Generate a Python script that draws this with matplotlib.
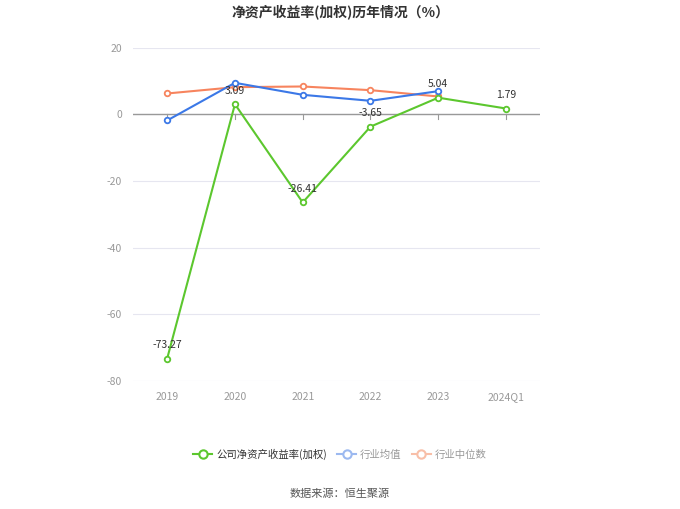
import matplotlib
matplotlib.use('Agg')
import matplotlib.pyplot as plt
from matplotlib.lines import Line2D

plt.rcParams['font.family'] = ['Noto Sans CJK SC', 'DejaVu Sans']
plt.rcParams['axes.unicode_minus'] = False

# 数据
years = ['2019', '2020', '2021', '2022', '2023', '2024Q1']
roe_company = [-73.27, 3.09, -26.41, -3.65, 5.04, 1.79]
roe_ind_mean = [-1.8, 9.5, 5.9, 4.1, 7.0]
roe_ind_median = [6.3, 8.2, 8.4, 7.3, 5.4]

C_GREEN = '#5cc72e'
C_BLUE = '#3b78e7'
C_ORANGE = '#f7845e'

fig = plt.figure(figsize=(6.8, 5.09), dpi=100)
ax = fig.add_axes([0.196, 0.2515, 0.598, 0.6545])

x = list(range(len(years)))
ax.plot(x[:len(roe_ind_median)], roe_ind_median, color=C_ORANGE, lw=1.5,
        marker='o', ms=4, mfc='white', mew=1.3, zorder=3)
ax.plot(x[:len(roe_ind_mean)], roe_ind_mean, color=C_BLUE, lw=1.5,
        marker='o', ms=4, mfc='white', mew=1.3, zorder=4)
ax.plot(x, roe_company, color=C_GREEN, lw=1.5,
        marker='o', ms=4, mfc='white', mew=1.3, zorder=5)

for xi, v in zip(x, roe_company):
    ax.annotate(f'{v:.2f}', (xi, v), xytext=(0, 6), textcoords='offset points',
                ha='center', va='bottom', fontsize=7.5, color='#333333', zorder=6)

ax.set_xlim(-0.5, len(years) - 0.5)
ax.set_ylim(-80, 20)
ax.set_yticks([-80, -60, -40, -20, 0, 20])
ax.set_xticks(x)
ax.set_xticklabels(years)
ax.tick_params(axis='both', length=0, labelsize=7.5, labelcolor='#999999', pad=8)
ax.grid(axis='y', color='#e6e6f0', lw=0.8)
ax.set_axisbelow(True)
for s in ax.spines.values():
    s.set_visible(False)
ax.axhline(0, color='#999999', lw=1, zorder=2)
for xi in x:
    ax.plot([xi, xi], [0, -1.3], color='#999999', lw=0.8, zorder=2, clip_on=False)

fig.text(0.5, 0.975, '净资产收益率(加权)历年情况（%）', ha='center', va='center',
         fontsize=10, fontweight='bold', color='#333333')

handles = [
    Line2D([0], [0], color=C_GREEN, lw=1.5, marker='o', ms=6, mfc='white', mew=1.5),
    Line2D([0], [0], color='#9cb9f0', lw=1.5, marker='o', ms=6, mfc='white', mew=1.5),
    Line2D([0], [0], color='#f8bfa8', lw=1.5, marker='o', ms=6, mfc='white', mew=1.5),
]
labels = ['公司净资产收益率(加权)', '行业均值', '行业中位数']
leg = fig.legend(handles, labels, loc='center', bbox_to_anchor=(0.5, 0.108), ncol=3,
                 frameon=False, fontsize=7.5, handlelength=1.8, handletextpad=0.4,
                 columnspacing=1.0)
for t, c in zip(leg.get_texts(), ['#333333', '#999999', '#999999']):
    t.set_color(c)

fig.text(0.5, 0.03, '数据来源：恒生聚源', ha='center', va='center',
         fontsize=8, color='#555555')

fig.savefig('out.png', dpi=100)
